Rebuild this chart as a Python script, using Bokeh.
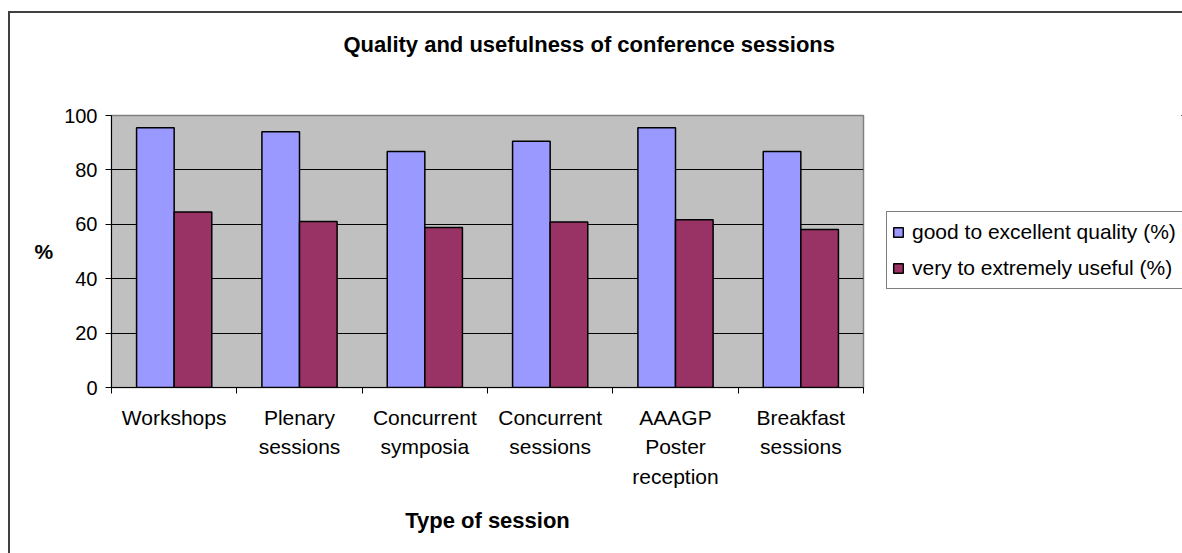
from bokeh.plotting import figure
from bokeh.models import Range1d, FixedTicker, Legend, LegendItem, ColumnDataSource, Title
from bokeh.layouts import row
from bokeh.transform import dodge
from bokeh.embed import file_html
from bokeh.resources import INLINE

# ---- data ----
categories = ["Workshops", "Plenary\nsessions", "Concurrent\nsymposia",
              "Concurrent\nsessions", "AAAGP\nPoster\nreception", "Breakfast\nsessions"]
quality = [95.5, 94.0, 86.8, 90.5, 95.5, 86.8]
useful = [64.5, 61.0, 58.8, 60.8, 61.7, 58.1]
series_names = ["good to excellent quality (%)", "very to extremely useful (%)"]
y_ticks = [0, 20, 40, 60, 80, 100]
title_text = "Quality and usefulness of conference sessions"
x_title = "Type of session"
y_title = "%"

FONT = "Liberation Sans"
BLUE = "#9999FF"
PLUM = "#993366"

n = len(categories)
pos = [i + 0.5 for i in range(n)]
src = ColumnDataSource(dict(x=pos, quality=quality, useful=useful))

p = figure(width=876, height=540, output_backend="svg", toolbar_location=None,
           x_range=Range1d(0, n), y_range=Range1d(0, 100),
           min_border_left=101, min_border_top=102, min_border_right=23,
           min_border_bottom=166)

p.background_fill_color = "#C0C0C0"
p.border_fill_color = "white"
p.outline_line_color = "#808080"
p.outline_line_width = 1.5

bar_style = dict(width=0.3, bottom=0, line_color="black", line_width=1.5)
r1 = p.vbar(x=dodge("x", -0.15), top="quality", source=src, fill_color=BLUE, **bar_style)
r2 = p.vbar(x=dodge("x", 0.15), top="useful", source=src, fill_color=PLUM, **bar_style)

# real title (outermost) + spacer title next to the frame
p.title.text = title_text
p.title.align = "left"
p.title.offset = 232
p.title.vertical_align = "top"
p.title.standoff = 36
p.title.text_font = FONT
p.title.text_font_size = "22px"
p.title.text_font_style = "bold"
p.title.text_color = "black"
p.add_layout(Title(text=" ", text_font_size="10px", standoff=26), "above")

# grid
p.xgrid.visible = False
p.ygrid.ticker = FixedTicker(ticks=[t for t in y_ticks if 0 < t < 100])
p.ygrid.grid_line_color = "black"
p.ygrid.grid_line_width = 1

# y axis
ya = p.yaxis[0]
ya.ticker = FixedTicker(ticks=y_ticks)
ya.major_label_text_font = FONT
ya.major_label_text_font_size = "20px"
ya.major_label_text_color = "black"
ya.major_tick_out = 6
ya.major_tick_in = 0
ya.minor_tick_out = 0
ya.minor_tick_in = 0
ya.axis_line_color = "black"
ya.major_tick_line_color = "black"
ya.major_label_standoff = 8
ya.axis_label = y_title
ya.axis_label_text_font = FONT
ya.axis_label_text_font_size = "21px"
ya.axis_label_text_font_style = "bold"
ya.axis_label_text_color = "black"
ya.axis_label_standoff = 8
try:
    ya.axis_label_orientation = "horizontal"
except Exception:
    pass

# x axis
xa = p.xaxis[0]
xa.ticker = FixedTicker(ticks=pos, minor_ticks=list(range(n + 1)))
xa.major_label_overrides = {float(v): c for v, c in zip(pos, categories)}
xa.major_tick_line_color = None
xa.major_tick_out = 6
xa.major_tick_in = 0
xa.minor_tick_out = 6
xa.minor_tick_in = 0
xa.minor_tick_line_color = "black"
xa.axis_line_color = "black"
xa.major_label_text_font = FONT
xa.major_label_text_font_size = "21px"
xa.major_label_text_color = "black"
xa.major_label_text_line_height = 1.3
xa.major_label_standoff = 12
xa.axis_label = x_title
xa.axis_label_text_font = FONT
xa.axis_label_text_font_size = "22px"
xa.axis_label_text_font_style = "bold"
xa.axis_label_text_color = "black"
xa.axis_label_standoff = 17

# legend panel (separate figure so the box can run off the right edge);
# its bars use the same data but lie far outside its visible ranges
q = figure(width=296, height=540, output_backend="svg", toolbar_location=None,
           x_range=Range1d(-106, -100), y_range=Range1d(-300, -200),
           x_axis_location=None, y_axis_location=None,
           min_border_left=0, min_border_right=0, min_border_top=0, min_border_bottom=0)
q.outline_line_color = None
q.background_fill_color = "white"
q.border_fill_color = "white"
q.xgrid.visible = False
q.ygrid.visible = False
k1 = q.vbar(x=dodge("x", -0.15), top="quality", source=src, fill_color=BLUE, **bar_style)
k2 = q.vbar(x=dodge("x", 0.15), top="useful", source=src, fill_color=PLUM, **bar_style)

legend = Legend(items=[LegendItem(label=series_names[0], renderers=[k1]),
                       LegendItem(label=series_names[1], renderers=[k2])],
                location=(0, 98), orientation="vertical")
legend.border_line_color = "black"
legend.border_line_width = 1
legend.background_fill_color = "white"
legend.background_fill_alpha = 1
legend.label_text_font = FONT
legend.label_text_font_size = "21px"
legend.label_text_color = "black"
legend.glyph_width = 12
legend.glyph_height = 12
legend.label_height = 30
legend.label_width = 282
legend.spacing = 6
legend.padding = 5
legend.margin = 0
legend.label_standoff = 8
q.add_layout(legend)

lay = row(p, q, spacing=0)
lay.styles = {"margin-left": "8px", "margin-top": "11px",
              "border-left": "2px solid #404040", "border-top": "2px solid #404040"}

open("out.html", "w").write(file_html(lay, INLINE))
